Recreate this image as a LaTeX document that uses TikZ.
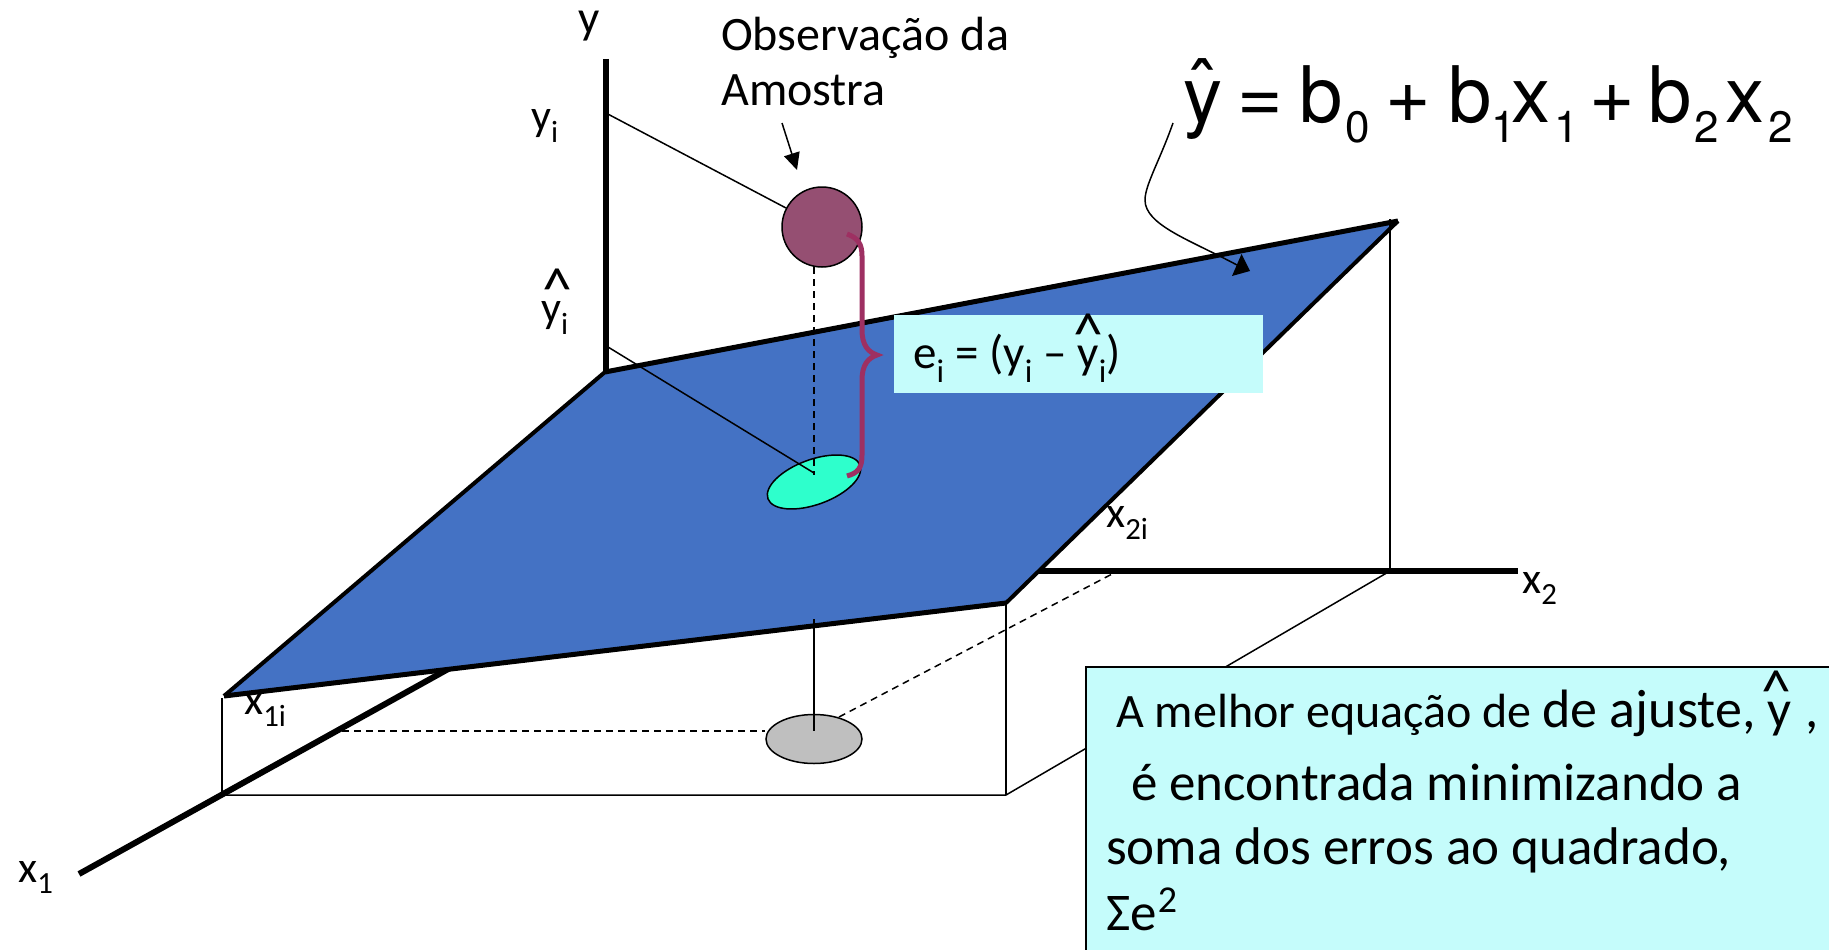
\documentclass[tikz,border=0pt]{standalone}
\usepackage{fontspec}
\setmainfont{Carlito}
\newfontfamily\eqfont{TeX Gyre Heros}
\usetikzlibrary{arrows.meta,shapes.geometric}
\definecolor{planeBlue}{RGB}{68,114,196}
\definecolor{obsFill}{RGB}{149,79,114}
\definecolor{fitFill}{RGB}{46,255,204}
\definecolor{braceLine}{RGB}{158,48,98}
\definecolor{noteFill}{RGB}{197,252,251}
\definecolor{projFill}{RGB}{191,191,191}
\newcommand{\fs}[1]{\fontsize{#1}{#1}\selectfont}
\newcommand{\eqsub}[1]{\raisebox{-20pt}{\fs{44}#1}}
\tikzset{
  lbl/.style={inner sep=0pt, anchor=base west, font=\fs{44}},
  txt/.style={inner sep=0pt, anchor=base west, font=\fs{48}},
  notetxt/.style={inner sep=0pt, anchor=base west, font=\fs{53}},
  hatmark/.style={inner sep=0pt, anchor=base, font=\fs{60}},
  thinline/.style={line width=1.5pt, draw=black},
  dashline/.style={line width=1.5pt, draw=black, dash pattern=on 7pt off 5pt},
  axisline/.style={line width=5.5pt, draw=black},
  blob/.style={ellipse, draw=black, line width=1.5pt, inner sep=0pt},
}
\begin{document}
\begin{tikzpicture}[x=1pt, y=-1pt]
  \useasboundingbox (0,0) rectangle (1829,950);
  \coordinate (yTop) at (606,59);
  \coordinate (origin) at (606,372);
  \coordinate (x1End) at (79,874);
  \coordinate (x1Start) at (450,668);
  \coordinate (x2Start) at (1037,571);
  \coordinate (x2End) at (1518,571);
  \coordinate (planeA) at (605,372);
  \coordinate (planeB) at (1398,221);
  \coordinate (planeC) at (1006,603);
  \coordinate (planeD) at (224,696);
  \coordinate (floorA) at (222,795);
  \coordinate (floorB) at (1006,795);
  \coordinate (floorC) at (1390,571);
  \coordinate (yiTick) at (604,112);
  \coordinate (yhTick) at (608,347);
  \coordinate (x1iTick) at (342,731);
  \coordinate (x2iTick) at (1114,573);

  \draw[axisline] (yTop) -- (origin);
  \draw[axisline, line width=6pt] (x1End) -- (x1Start);
  \draw[axisline] (x2Start) -- (x2End);

  \node[lbl] (x1iLabel) at (244,714) {x\textsubscript{1i}};

  \draw[thinline] (floorA) -- (floorB) -- (floorC);
  \draw[thinline] (floorA) -- (222,698);
  \draw[thinline] (floorB) -- (planeC);

  \draw[fill=planeBlue, draw=none] (planeA) -- (planeB) -- (planeC) -- (planeD) -- cycle;
  \draw[line width=5pt] (planeA) -- (planeB);
  \draw[line width=4pt] (planeB) -- (planeC);
  \draw[line width=5pt] (planeC) -- (planeD);
  \draw[line width=4pt] (planeD) -- (planeA);

  \draw[thinline] (floorC) -- (1390,219);

  \node[blob, fill=obsFill, minimum width=80pt, minimum height=80pt] (obs) at (822,227) {};
  \node[blob, fill=fitFill, minimum width=98pt, minimum height=45pt, rotate=20] (fit) at (814,482) {};
  \node[blob, fill=projFill, minimum width=96pt, minimum height=49pt] (proj) at (814,739) {};

  \draw[thinline] (yiTick) -- (obs);
  \draw[thinline] (yhTick) -- (814,473);
  \draw[dashline] (814,267) -- (814,475);
  \draw[thinline] (814,619) -- (814,731);
  \draw[dashline] (x1iTick) -- (proj.west |- x1iTick);
  \draw[dashline] (proj) ++(25,-22) -- (x2iTick);

  \draw[line width=5pt, draw=braceLine] (847,234) .. controls (858,238) and (862,244) .. (862,256)
    -- (862,330) .. controls (862,345) and (868,352) .. (877,355)
    .. controls (868,358) and (862,365) .. (862,380)
    -- (862,455) .. controls (862,468) and (858,473) .. (847,476);

  \fill[noteFill] (894,315) rectangle (1263,393);
  \node[lbl, font=\fs{47}] (errLabel) at (913,368) {e\textsubscript{i} = (y\textsubscript{i} – y\textsubscript{i})};
  \node[hatmark] (errHat) at (1088,354) {\textasciicircum};

  \node[txt] (obsText) at (721,51) {Observação da};
  \node[txt] (amoText) at (721,105) {Amostra};
  \draw[thinline, -{Triangle[length=17pt, width=16pt]}] (782,123) -- (797,170);

  \node[lbl, font=\fs{47}] (yLabel) at (578,34) {y};
  \node[lbl] (yiLabel) at (531,130) {y\textsubscript{i}};
  \node[lbl] (yhLabel) at (541,322) {y\textsubscript{i}};
  \node[hatmark] (yhHat) at (557,309) {\textasciicircum};
  \node[lbl] (x1Label) at (18,882) {x\textsubscript{1}};
  \node[lbl] (x2Label) at (1522,593) {x\textsubscript{2}};
  \node[lbl] (x2iLabel) at (1106,527) {x\textsubscript{2i}};

  \node[inner sep=0pt, anchor=base west] (eqn) at (1183,122)
    {\eqfont\fs{78}\rlap{\kern6pt\raisebox{7pt}{ˆ}}y\kern15pt=\kern17pt b\kern2pt\eqsub{0}\kern16pt+\kern17pt b\eqsub{1}\kern-4pt x\kern4pt\eqsub{1}\kern10pt+\kern14pt b\kern2pt\eqsub{2}\kern7pt x\kern4pt\eqsub{2}};
  \draw[thinline] (1173,123) .. controls (1160,160) and (1145,185) .. (1145,200)
    .. controls (1145,225) and (1190,240) .. (1237,265);
  \fill (1241.5,254) -- (1232,276) -- (1250,271) -- cycle;

  \fill[noteFill] (1086,667) rectangle (1829,950);
  \draw[line width=2pt] (1086,950) -- (1086,667) -- (1829,667);
  \node[notetxt, font=\fs{48}] (noteA) at (1116,727) {A melhor equação de {\fs{54}de ajuste,}};
  \node[notetxt] (noteY) at (1767,727) {y};
  \node[hatmark] (noteHat) at (1776,711) {\textasciicircum};
  \node[notetxt] (noteComma) at (1805,727) {,};
  \node[notetxt] (noteB) at (1131,800) {é encontrada minimizando a};
  \node[notetxt] (noteC) at (1106,864) {soma dos erros ao quadrado,};
  \node[notetxt] (noteD) at (1106,930) {Σe\kern1pt\raisebox{18pt}{\fs{38}2}};
\end{tikzpicture}
\end{document}
